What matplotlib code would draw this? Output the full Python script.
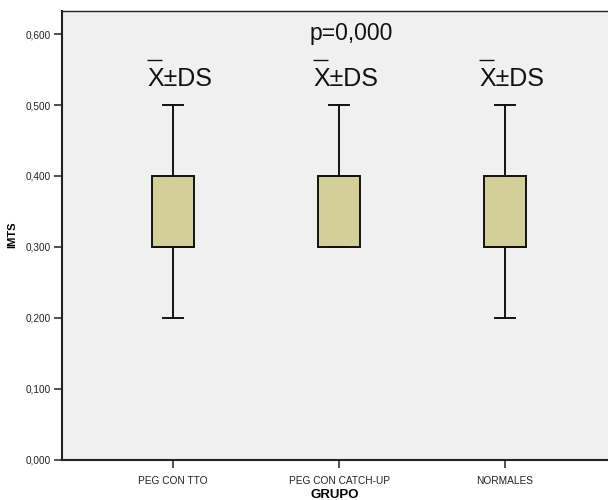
import matplotlib
matplotlib.use("Agg")
import matplotlib.pyplot as plt

categories = ["PEG CON TTO", "PEG CON CATCH-UP", "NORMALES"]
whisker_low = [0.2, 0.3, 0.2]
q1 = [0.3, 0.3, 0.3]
median = [0.3, 0.4, 0.3]
q3 = [0.4, 0.4, 0.4]
whisker_high = [0.5, 0.5, 0.5]
y_ticks = [0.0, 0.1, 0.2, 0.3, 0.4, 0.5, 0.6]
y_tick_labels = ["0,000", "0,100", "0,200", "0,300", "0,400", "0,500", "0,600"]
group_label = "X±DS"
p_label = "p=0,000"

plt.rcParams['font.family'] = ['Liberation Sans', 'DejaVu Sans']

fig = plt.figure(figsize=(6.08, 5.0), dpi=100)
ax = fig.add_axes([62/608, 40.5/500, 546/608, 448.5/500])
ax.set_facecolor('#f0f0f0')

stats = []
for i, c in enumerate(categories):
    stats.append(dict(label=c, whislo=whisker_low[i], q1=q1[i], med=median[i],
                      q3=q3[i], whishi=whisker_high[i], fliers=[]))
pos = list(range(1, len(categories) + 1))
ax.bxp(stats, positions=pos, widths=0.253, capwidths=0.12, patch_artist=True,
       showfliers=False,
       boxprops=dict(facecolor='#d3cf98', edgecolor='#111111', linewidth=1.4),
       whiskerprops=dict(color='#111111', linewidth=1.4),
       capprops=dict(color='#111111', linewidth=1.4),
       medianprops=dict(color='#111111', linewidth=1.4))

ax.set_xlim(0.331, 3.62)
ax.set_ylim(0, 0.6326)
ax.set_yticks(y_ticks)
ax.set_yticklabels(y_tick_labels, fontsize=7.2, color='#222222')
ax.set_xticks(pos)
ax.set_xticklabels(categories, fontsize=7.3, color='#222222')
ax.tick_params(axis='both', length=6, width=1.2, color='#333333', pad=2)
ax.tick_params(axis='x', pad=6)

for s in ['left', 'bottom']:
    ax.spines[s].set_linewidth(1.5)
    ax.spines[s].set_color('#222222')
ax.spines['top'].set_linewidth(1.0)
ax.spines['top'].set_color('#222222')
ax.spines['right'].set_visible(False)

ax.set_xlabel("GRUPO", fontsize=9.5, fontweight='bold', labelpad=2)
ax.set_ylabel("IMTS", fontsize=8, fontweight='bold', labelpad=6)

for x in pos:
    ax.text(x - 0.157, 0.527, group_label, fontsize=18, ha='left', va='baseline',
            color='#111111')
    ax.hlines(0.5635, x - 0.157, x - 0.066, color='#111111', linewidth=1.0)

ax.text(2.072, 0.5917, p_label, fontsize=16.5, ha='center', va='baseline',
        color='#111111')

fig.savefig("out.png", dpi=100)
